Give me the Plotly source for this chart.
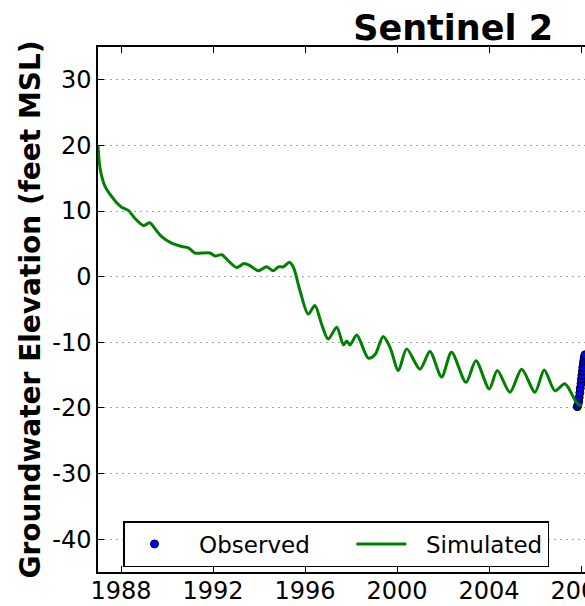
import plotly.graph_objects as go

# Simulated groundwater elevation (decimal year, feet MSL)
sim_years = [1987.0, 1987.04, 1987.1, 1987.2, 1987.3, 1987.45, 1987.6, 1987.8, 1988.03, 1988.32,
             1988.6, 1988.97, 1989.26, 1989.48, 1989.77, 1990.2, 1990.64, 1990.93, 1991.22, 1991.5,
             1991.87, 1992.09, 1992.38, 1992.67, 1993.03, 1993.35, 1993.6, 1993.97, 1994.33, 1994.62,
             1994.84, 1995.06, 1995.32, 1995.5, 1995.78, 1996.14, 1996.43, 1996.72, 1997.01, 1997.38,
             1997.67, 1997.81, 1997.96, 1998.25, 1998.75, 1999.04, 1999.4, 1999.7, 2000.06, 2000.42,
             2001.0, 2001.43, 2001.94, 2002.37, 2003.0, 2003.43, 2004.01, 2004.36, 2004.91, 2005.42,
             2006.0, 2006.4, 2006.87, 2007.3, 2007.81, 2008.03]
sim_values = [20.0, 18.0, 16.3, 14.8, 13.8, 12.9, 12.2, 11.3, 10.6, 10.1,
              8.9, 7.8, 8.2, 7.3, 6.1, 5.1, 4.6, 4.4, 3.6, 3.6,
              3.6, 3.15, 3.35, 2.4, 1.4, 2.0, 1.7, 0.9, 1.5, 0.9,
              1.5, 1.5, 2.2, 1.4, -2.1, -5.7, -4.4, -7.2, -9.5, -7.7,
              -10.4, -9.8, -10.4, -8.9, -12.4, -11.9, -9.1, -10.8, -14.3, -11.0,
              -14.1, -11.4, -15.3, -11.5, -16.1, -12.8, -17.1, -14.3, -17.6, -14.1,
              -17.6, -14.2, -17.4, -16.3, -19.2, -19.7]

# Observed groundwater elevation
obs_years = [2007.84, 2007.87, 2007.9, 2007.92, 2007.95, 2007.97, 2008.0, 2008.02, 2008.04,
             2008.06, 2008.08, 2008.1, 2008.12, 2008.14, 2008.16, 2008.18]
obs_values = [-19.8, -19.5, -19.0, -18.4, -17.7, -17.0, -16.3, -15.6, -15.0,
              -14.4, -13.8, -13.3, -12.8, -12.4, -12.1, -11.9]

x_ticks = [1988, 1992, 1996, 2000, 2004, 2008]
x_tick_labels = ["1988", "1992", "1996", "2000", "2004", "2008"]
y_ticks = [-40, -30, -20, -10, 0, 10, 20, 30]
y_tick_labels = ["-40", "-30", "-20", "-10", "0", "10", "20", "30"]

W, H = 585, 606
ML, MR, MT, MB = 98, 0, 47, 34
PW, PH = W - ML - MR, H - MT - MB

NB = "\u00a0"

fig = go.Figure()
fig.add_trace(go.Scatter(
    x=obs_years, y=obs_values, mode="markers", name=NB * 2 + "Observed" + NB * 5,
    marker=dict(color="#0000ff", size=8, line=dict(color="black", width=1)),
))
fig.add_trace(go.Scatter(
    x=sim_years, y=sim_values, mode="lines", name=NB * 2 + "Simulated",
    line=dict(color="#008000", width=3, shape="spline", smoothing=0.8),
))

font_family = "DejaVu Sans"
fig.update_layout(
    width=W, height=H,
    margin=dict(l=ML, r=MR, t=MT, b=MB, pad=0),
    paper_bgcolor="white", plot_bgcolor="white",
    font=dict(family=font_family, size=24, color="black"),
    showlegend=True,
    legend=dict(
        orientation="h", x=(123 - ML) / PW, y=(H - MB - 521) / PH,
        xanchor="left", yanchor="top",
        bordercolor="black", borderwidth=1.5, bgcolor="white",
        font=dict(family=font_family, size=23, color="black"),
        itemwidth=50,
        traceorder="normal",
    ),
    xaxis=dict(
        range=[1987.0, 1987.0 + PW / 23.0],
        tickvals=x_ticks, ticktext=x_tick_labels,
        showgrid=False, zeroline=False,
        showline=True, linecolor="black", linewidth=1.5, mirror="ticks",
        ticks="inside", ticklen=6, tickwidth=1, tickcolor="black",
        tickfont=dict(family=font_family, size=24, color="black"),
        ticklabeloverflow="allow", ticklabelstandoff=-4,
        automargin=False,
    ),
    yaxis=dict(
        range=[-45, 35],
        tickvals=y_ticks, ticktext=y_tick_labels,
        showgrid=True, gridcolor="#a0a0a0", gridwidth=1, griddash="2px,4px",
        zeroline=False,
        showline=True, linecolor="black", linewidth=1.5, mirror=False,
        ticks="inside", ticklen=6, tickwidth=1, tickcolor="black",
        tickfont=dict(family=font_family, size=24, color="black"),
        ticklabeloverflow="allow",
        automargin=False,
    ),
    title=dict(
        text="<b>Sentinel 2</b>", xref="container", yref="container",
        x=553 / W, xanchor="right", y=1 - 28 / H, yanchor="middle",
        font=dict(family=font_family, size=35, color="black"),
    ),
    annotations=[dict(
        text="<b>Groundwater Elevation (feet MSL)</b>",
        xref="paper", yref="paper", x=(30 - ML) / PW, y=0.5,
        xanchor="center", yanchor="middle", textangle=-90, showarrow=False,
        font=dict(family=font_family, size=28, color="black"),
    )],
)

fig.write_html("out.html")
